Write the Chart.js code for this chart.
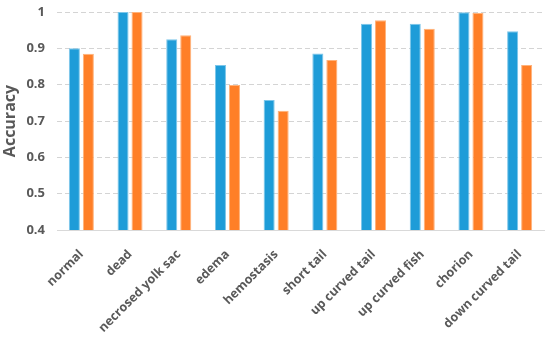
<!DOCTYPE html>
<html><head><meta charset="utf-8">
<script src="https://cdn.jsdelivr.net/npm/chart.js@4/dist/chart.umd.min.js"></script>
<style>html,body{margin:0;padding:0;background:#fff}#w{width:550px;height:345px}</style>
</head><body><div id="w"><canvas id="c"></canvas></div>
<script>
const categories = ["normal","dead","necrosed yolk sac","edema","hemostasis","short tail","up curved tail","up curved fish","chorion","down curved tail"];
const seriesA = [0.900,1.000,0.925,0.854,0.758,0.886,0.968,0.968,0.999,0.947];
const seriesB = [0.885,1.000,0.936,0.799,0.728,0.868,0.977,0.954,0.997,0.854];
const yTicks = [0.4,0.5,0.6,0.7,0.8,0.9,1];

const FONT = "'Open Sans'";
new Chart(document.getElementById('c'), {
  type:'bar',
  data:{labels:categories,datasets:[
    {label:'A',data:seriesA,backgroundColor:'#1E9CD8',borderColor:'#7cc6ea',borderWidth:{left:1,right:1,top:1,bottom:0},barPercentage:0.79,categoryPercentage:0.575},
    {label:'B',data:seriesB,backgroundColor:'#FF7F27',borderColor:'#ffb27a',borderWidth:{left:1,right:1,top:1,bottom:0},barPercentage:0.79,categoryPercentage:0.575}
  ]},
  options:{
    responsive:true,maintainAspectRatio:false,animation:false,
    layout:{padding:{top:12,right:6,left:0,bottom:0}},
    plugins:{legend:{display:false},tooltip:{enabled:false}},
    scales:{
      x:{
        afterFit:(s)=>{s.height=115;s.paddingTop=0;s.paddingBottom=0;},
        grid:{display:false,drawTicks:false},
        border:{display:true,color:'#d9d9d9',width:1},
        ticks:{minRotation:45,maxRotation:45,color:'#595959',padding:17,font:{family:FONT,weight:'bold',size:12.5}}
      },
      y:{
        min:0.4,max:1,
        afterFit:(s)=>{s.width=57;s.paddingTop=0;s.paddingBottom=0;},
        afterBuildTicks:(s)=>{s.ticks=yTicks.map(v=>({value:v}));},
        grid:{color:(ctx)=>ctx.tick&&ctx.tick.value===0.4?'rgba(0,0,0,0)':'#d4d4d4',drawTicks:false,lineWidth:1},
        border:{display:false,dash:[5,3]},
        ticks:{color:'#595959',padding:12,font:{family:FONT,weight:'bold',size:13},callback:(v)=>String(Math.round(v*10)/10)},
        title:{display:true,text:'Accuracy',color:'#595959',padding:{top:1,bottom:0},font:{family:FONT,weight:'bold',size:16}}
      }
    }
  }
});
</script></body></html>
